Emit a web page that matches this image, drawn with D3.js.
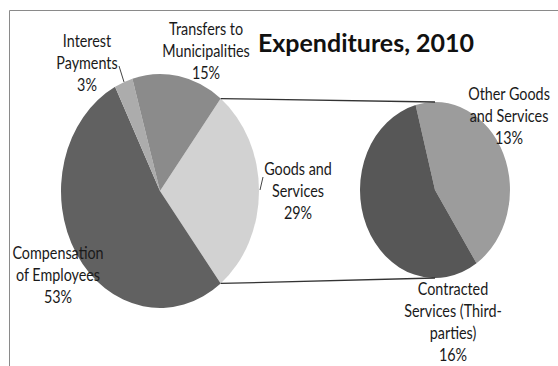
<!DOCTYPE html>
<html>
<head>
<meta charset="utf-8">
<script src="https://cdn.jsdelivr.net/npm/d3@7/dist/d3.min.js"></script>
<style>
  html, body { margin: 0; padding: 0; background: #fff; }
  svg { display: block; }
  .lbl { font-family: Lato, "Open Sans", sans-serif; font-size: 16.5px; fill: #1a1a1a; }
  .title { font-family: Lato, "Open Sans", sans-serif; font-weight: bold; font-size: 25px; fill: #111; }
</style>
</head>
<body>
<svg id="chart" width="558" height="366"></svg>
<script>
// Main pie, in clockwise drawing order (the split-out slice first)
const mainCategories = ["Goods and Services", "Compensation of Employees", "Interest Payments", "Transfers to Municipalities"];
const mainValues = [29, 53, 3, 15];
const mainColors = ["#d2d2d2", "#616161", "#acacac", "#8b8b8b"];

// Breakdown of "Goods and Services"
const subCategories = ["Other Goods and Services", "Contracted Services (Third-parties)"];
const subValues = [13, 16];
const subColors = ["#9c9c9c", "#575757"];

const titleText = "Expenditures, 2010";

const svg = d3.select("#chart");

// Chart frame
svg.append("path")
  .attr("d", "M9.5,366 V10.5 H558")
  .attr("fill", "none")
  .attr("stroke", "#8a8a8a")
  .attr("stroke-width", 1);

const main = { cx: 160, cy: 191, rx: 99, ry: 117 };
const sub = { cx: 435, cy: 190, rx: 75, ry: 88 };

const splitShare = mainValues[0] / d3.sum(mainValues);
const mainPie = d3.pie().sort(null)
  .startAngle(Math.PI / 2 - splitShare * Math.PI)
  .endAngle(Math.PI / 2 - splitShare * Math.PI + 2 * Math.PI);
const subStart = -15 * Math.PI / 180;
const subPie = d3.pie().sort(null).startAngle(subStart).endAngle(subStart + 2 * Math.PI);

function drawPie(p, arcsData, colors) {
  const arc = d3.arc().innerRadius(0).outerRadius(p.rx);
  const g = svg.append("g")
    .attr("transform", `translate(${p.cx},${p.cy}) scale(1,${p.ry / p.rx})`);
  g.selectAll("path").data(arcsData).join("path")
    .attr("d", arc)
    .attr("fill", (d, i) => colors[i]);
}

const mainArcs = mainPie(mainValues);
const subArcs = subPie(subValues);
drawPie(main, mainArcs, mainColors);
drawPie(sub, subArcs, subColors);

// Point on an ellipse at a pie angle (clockwise from 12 o'clock)
const onEdge = (p, a) => [p.cx + p.rx * Math.sin(a), p.cy - p.ry * Math.cos(a)];

// Connector lines from the split slice to the breakdown pie
const split = mainArcs[0];
const conn = [
  [onEdge(main, split.startAngle), onEdge(sub, 0)],
  [onEdge(main, split.endAngle), onEdge(sub, Math.PI)]
];
svg.selectAll("line.conn").data(conn).join("line")
  .attr("class", "conn")
  .attr("x1", d => d[0][0]).attr("y1", d => d[0][1])
  .attr("x2", d => d[1][0]).attr("y2", d => d[1][1])
  .attr("stroke", "#333").attr("stroke-width", 1.3);

// Title
svg.append("text").attr("class", "title")
  .attr("x", 366).attr("y", 52).attr("text-anchor", "middle")
  .text(titleText);

// Slice labels: category name lines and percentage, set in a narrowed face
const fmt = v => Math.round(v) + "%";
const labels = [
  { lines: ["Interest", "Payments"], value: mainValues[2], x: 87, y: 47 },
  { lines: ["Transfers to", "Municipalities"], value: mainValues[3], x: 206, y: 35 },
  { lines: ["Goods and", "Services"], value: mainValues[0], x: 298, y: 175 },
  { lines: ["Compensation", "of Employees"], value: mainValues[1], x: 58, y: 259 },
  { lines: ["Other Goods", "and Services"], value: subValues[0], x: 509, y: 100 },
  { lines: ["Contracted", "Services (Third-", "parties)"], value: subValues[1], x: 453, y: 295 }
];
labels.forEach(l => {
  const t = svg.append("text").attr("class", "lbl").attr("text-anchor", "middle")
    .attr("transform", `translate(${l.x},${l.y}) scale(0.87,1)`);
  l.lines.concat([fmt(l.value)]).forEach((s, i) => {
    t.append("tspan").attr("x", 0).attr("y", i * 22).text(s);
  });
});

// Leader lines for labels sitting off their slices
const leaders = [
  [[119, 66], [124, 82]],
  [[263, 177], [260, 190]]
];
svg.selectAll("line.lead").data(leaders).join("line")
  .attr("class", "lead")
  .attr("x1", d => d[0][0]).attr("y1", d => d[0][1])
  .attr("x2", d => d[1][0]).attr("y2", d => d[1][1])
  .attr("stroke", "#444").attr("stroke-width", 1);
</script>
</body>
</html>
